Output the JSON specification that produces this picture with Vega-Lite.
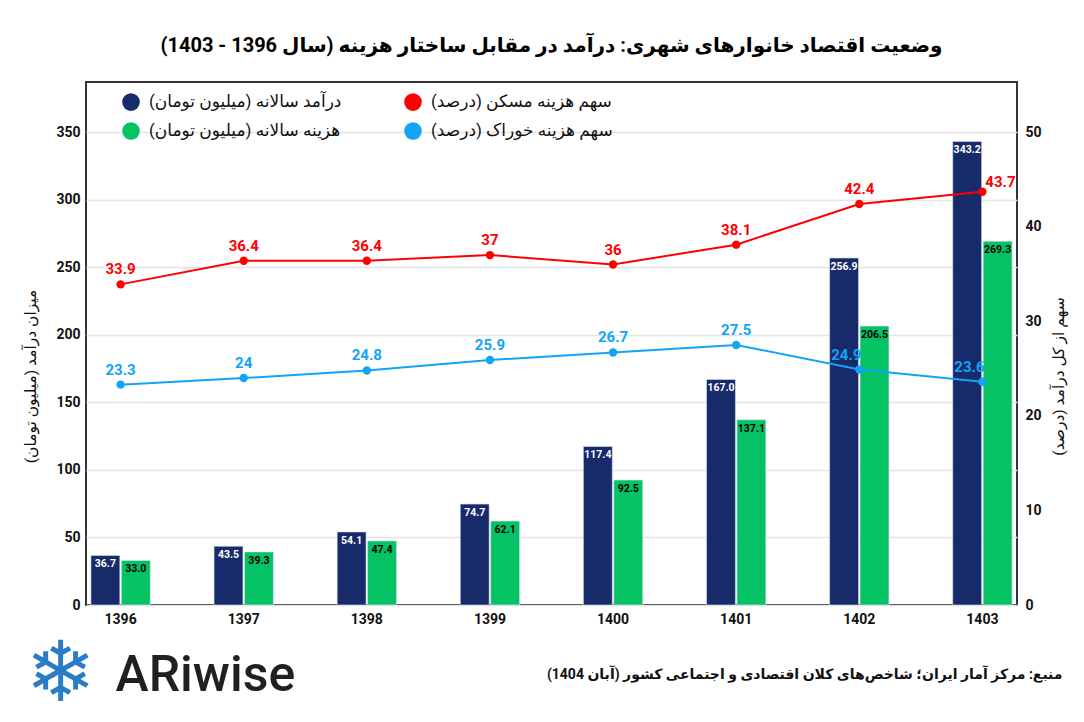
{
  "$schema": "https://vega.github.io/schema/vega-lite/v6.json",
  "width": 931,
  "height": 523,
  "autosize": {"type": "none"},
  "padding": {"left": 86, "top": 82, "right": 67, "bottom": 117},
  "title": {
    "text": "\u200fوضعیت اقتصاد خانوارهای شهری: درآمد در مقابل ساختار هزینه (سال 1396 - 1403)\u200f",
    "fontSize": 20,
    "fontWeight": "bold",
    "color": "#000000",
    "offset": 26
  },
  "datasets": {
    "bars": [
      {"year": "1396", "series": "درآمد سالانه (میلیون تومان)", "value": 36.7},
      {"year": "1397", "series": "درآمد سالانه (میلیون تومان)", "value": 43.5},
      {"year": "1398", "series": "درآمد سالانه (میلیون تومان)", "value": 54.1},
      {"year": "1399", "series": "درآمد سالانه (میلیون تومان)", "value": 74.7},
      {"year": "1400", "series": "درآمد سالانه (میلیون تومان)", "value": 117.4},
      {"year": "1401", "series": "درآمد سالانه (میلیون تومان)", "value": 167.0},
      {"year": "1402", "series": "درآمد سالانه (میلیون تومان)", "value": 256.9},
      {"year": "1403", "series": "درآمد سالانه (میلیون تومان)", "value": 343.2},
      {"year": "1396", "series": "هزینه سالانه (میلیون تومان)", "value": 33.0},
      {"year": "1397", "series": "هزینه سالانه (میلیون تومان)", "value": 39.3},
      {"year": "1398", "series": "هزینه سالانه (میلیون تومان)", "value": 47.4},
      {"year": "1399", "series": "هزینه سالانه (میلیون تومان)", "value": 62.1},
      {"year": "1400", "series": "هزینه سالانه (میلیون تومان)", "value": 92.5},
      {"year": "1401", "series": "هزینه سالانه (میلیون تومان)", "value": 137.1},
      {"year": "1402", "series": "هزینه سالانه (میلیون تومان)", "value": 206.5},
      {"year": "1403", "series": "هزینه سالانه (میلیون تومان)", "value": 269.3}
    ],
    "shares": [
      {"year": "1396", "series": "سهم هزینه مسکن (درصد)", "share": 33.9},
      {"year": "1397", "series": "سهم هزینه مسکن (درصد)", "share": 36.4},
      {"year": "1398", "series": "سهم هزینه مسکن (درصد)", "share": 36.4},
      {"year": "1399", "series": "سهم هزینه مسکن (درصد)", "share": 37},
      {"year": "1400", "series": "سهم هزینه مسکن (درصد)", "share": 36},
      {"year": "1401", "series": "سهم هزینه مسکن (درصد)", "share": 38.1},
      {"year": "1402", "series": "سهم هزینه مسکن (درصد)", "share": 42.4},
      {"year": "1403", "series": "سهم هزینه مسکن (درصد)", "share": 43.7},
      {"year": "1396", "series": "سهم هزینه خوراک (درصد)", "share": 23.3},
      {"year": "1397", "series": "سهم هزینه خوراک (درصد)", "share": 24},
      {"year": "1398", "series": "سهم هزینه خوراک (درصد)", "share": 24.8},
      {"year": "1399", "series": "سهم هزینه خوراک (درصد)", "share": 25.9},
      {"year": "1400", "series": "سهم هزینه خوراک (درصد)", "share": 26.7},
      {"year": "1401", "series": "سهم هزینه خوراک (درصد)", "share": 27.5},
      {"year": "1402", "series": "سهم هزینه خوراک (درصد)", "share": 24.9},
      {"year": "1403", "series": "سهم هزینه خوراک (درصد)", "share": 23.6}
    ]
  },
  "layer": [
    {
      "data": {"name": "bars"},
      "encoding": {
        "x": {
          "field": "year",
          "type": "ordinal",
          "scale": {"paddingInner": 0.518, "paddingOuter": 0.04},
          "axis": {
            "orient": "bottom",
            "labelAngle": 0,
            "labelFontSize": 14,
            "labelFontWeight": "bold",
            "labelColor": "#111111",
            "labelPadding": 7,
            "ticks": false,
            "domain": false,
            "title": "\u200fمنبع: مرکز آمار ایران؛ شاخص\u200cهای کلان اقتصادی و اجتماعی کشور (آبان 1404)\u200f",
            "titleX": 976,
            "titleY": 69,
            "titleAlign": "right",
            "titleBaseline": "middle",
            "titleFontSize": 14,
            "titleFontWeight": "bold",
            "titleColor": "#111111"
          }
        },
        "xOffset": {
          "field": "series",
          "type": "nominal",
          "scale": {
            "domain": ["درآمد سالانه (میلیون تومان)", "هزینه سالانه (میلیون تومان)"],
            "paddingInner": 0.05,
            "paddingOuter": 0
          }
        },
        "y": {
          "field": "value",
          "type": "quantitative",
          "scale": {"domain": [0, 387.2], "nice": false},
          "axis": {
            "orient": "left",
            "values": [0, 50, 100, 150, 200, 250, 300, 350],
            "grid": true,
            "gridColor": "#e4e4e4",
            "gridWidth": 1.5,
            "domain": false,
            "ticks": false,
            "labelPadding": 6,
            "labelFontSize": 14,
            "labelFontWeight": "bold",
            "labelColor": "#111111",
            "title": "\u200fمیزان درآمد (میلیون تومان)\u200f",
            "titleX": -56,
            "titleY": 294,
            "titleAngle": -90,
            "titleAlign": "center",
            "titleBaseline": "middle",
            "titleFontSize": 15.5,
            "titleFontWeight": "normal",
            "titleColor": "#111111"
          }
        }
      },
      "layer": [
        {
          "mark": {"type": "bar", "stroke": "#dde3ee", "strokeWidth": 0.6},
          "encoding": {
            "color": {
              "field": "series",
              "type": "nominal",
              "scale": {
                "domain": [
                  "درآمد سالانه (میلیون تومان)",
                  "هزینه سالانه (میلیون تومان)",
                  "سهم هزینه مسکن (درصد)",
                  "سهم هزینه خوراک (درصد)"
                ],
                "range": ["#172a6a", "#05c264", "#ff0000", "#12a4f6"]
              },
              "legend": {
                "orient": "none",
                "legendX": 36,
                "legendY": 11,
                "columns": 2,
                "padding": 0,
                "title": null,
                "symbolType": "circle",
                "symbolSize": 310,
                "symbolStrokeWidth": 0,
                "symbolOpacity": 1,
                "labelFontSize": 17,
                "labelColor": "#111111",
                "labelOffset": 9,
                "labelLimit": 0,
                "rowPadding": 11,
                "columnPadding": 62,
                "labelExpr": "'\u200f' + datum.label + '\u200f'"
              }
            }
          }
        },
        {
          "mark": {"type": "text", "baseline": "top", "dy": 4, "fontSize": 10.5, "fontWeight": "bold"},
          "encoding": {
            "text": {"field": "value", "type": "quantitative", "format": ".1f"},
            "color": {
              "condition": {"test": "datum.series === 'درآمد سالانه (میلیون تومان)'", "value": "#ffffff"},
              "value": "#000000"
            }
          }
        }
      ]
    },
    {
      "data": {"name": "shares"},
      "encoding": {
        "x": {
          "field": "year",
          "type": "ordinal",
          "axis": {
            "orient": "bottom",
            "labels": false,
            "ticks": false,
            "domain": false,
            "grid": false,
            "title": "ARiwise",
            "titleX": 29,
            "titleY": 70,
            "titleAlign": "left",
            "titleBaseline": "middle",
            "titleFont": "Roboto",
            "titleFontSize": 50,
            "titleFontWeight": 500,
            "titleColor": "#231f20"
          }
        },
        "y": {
          "field": "share",
          "type": "quantitative",
          "scale": {"domain": [0, 55.3], "nice": false},
          "axis": {
            "orient": "right",
            "values": [0, 10, 20, 30, 40, 50],
            "grid": false,
            "domain": false,
            "ticks": false,
            "labelPadding": 8,
            "labelFontSize": 14,
            "labelFontWeight": "bold",
            "labelColor": "#111111",
            "title": "\u200fسهم از کل درآمد (درصد)\u200f",
            "titleX": 41,
            "titleY": 294,
            "titleAngle": -90,
            "titleAlign": "center",
            "titleBaseline": "middle",
            "titleFontSize": 15.5,
            "titleFontWeight": "normal",
            "titleColor": "#111111"
          }
        },
        "color": {"field": "series", "type": "nominal"}
      },
      "layer": [
        {"mark": {"type": "line", "strokeWidth": 2}},
        {"mark": {"type": "point", "filled": true, "size": 70, "opacity": 1}}
      ]
    },
    {
      "data": {"name": "shares"},
      "encoding": {
        "x": {
          "field": "year",
          "type": "ordinal",
          "axis": {
            "orient": "bottom",
            "labels": false,
            "ticks": false,
            "domain": false,
            "grid": false,
            "title": "❄",
            "titleX": -26,
            "titleY": 70,
            "titleAlign": "center",
            "titleBaseline": "middle",
            "titleFont": "DejaVu Sans",
            "titleFontSize": 84,
            "titleFontWeight": "bold",
            "titleColor": "#2a7cc5"
          }
        },
        "y": {
          "field": "share",
          "type": "quantitative",
          "scale": {"domain": [0, 55.3], "nice": false},
          "axis": null
        },
        "text": {"field": "share", "type": "quantitative"},
        "color": {"field": "series", "type": "nominal"}
      },
      "layer": [
        {
          "transform": [{"filter": "!(datum.year === '1403' || (datum.year === '1402' && datum.series === 'سهم هزینه خوراک (درصد)'))"}],
          "mark": {"type": "text", "dy": -15, "fontSize": 15, "fontWeight": "bold"}
        },
        {
          "transform": [{"filter": "datum.year === '1403' && datum.series === 'سهم هزینه مسکن (درصد)'"}],
          "mark": {"type": "text", "dx": 18, "dy": -10, "fontSize": 15, "fontWeight": "bold"}
        },
        {
          "transform": [{"filter": "(datum.year === '1403' || datum.year === '1402') && datum.series === 'سهم هزینه خوراک (درصد)'"}],
          "mark": {"type": "text", "dx": -13, "dy": -15, "fontSize": 15, "fontWeight": "bold"}
        }
      ]
    }
  ],
  "resolve": {
    "scale": {"y": "independent"},
    "axis": {"x": "independent", "y": "independent"}
  },
  "config": {
    "font": "Roboto, DejaVu Sans",
    "background": "#ffffff",
    "view": {"stroke": "#333333", "strokeWidth": 2}
  }
}
